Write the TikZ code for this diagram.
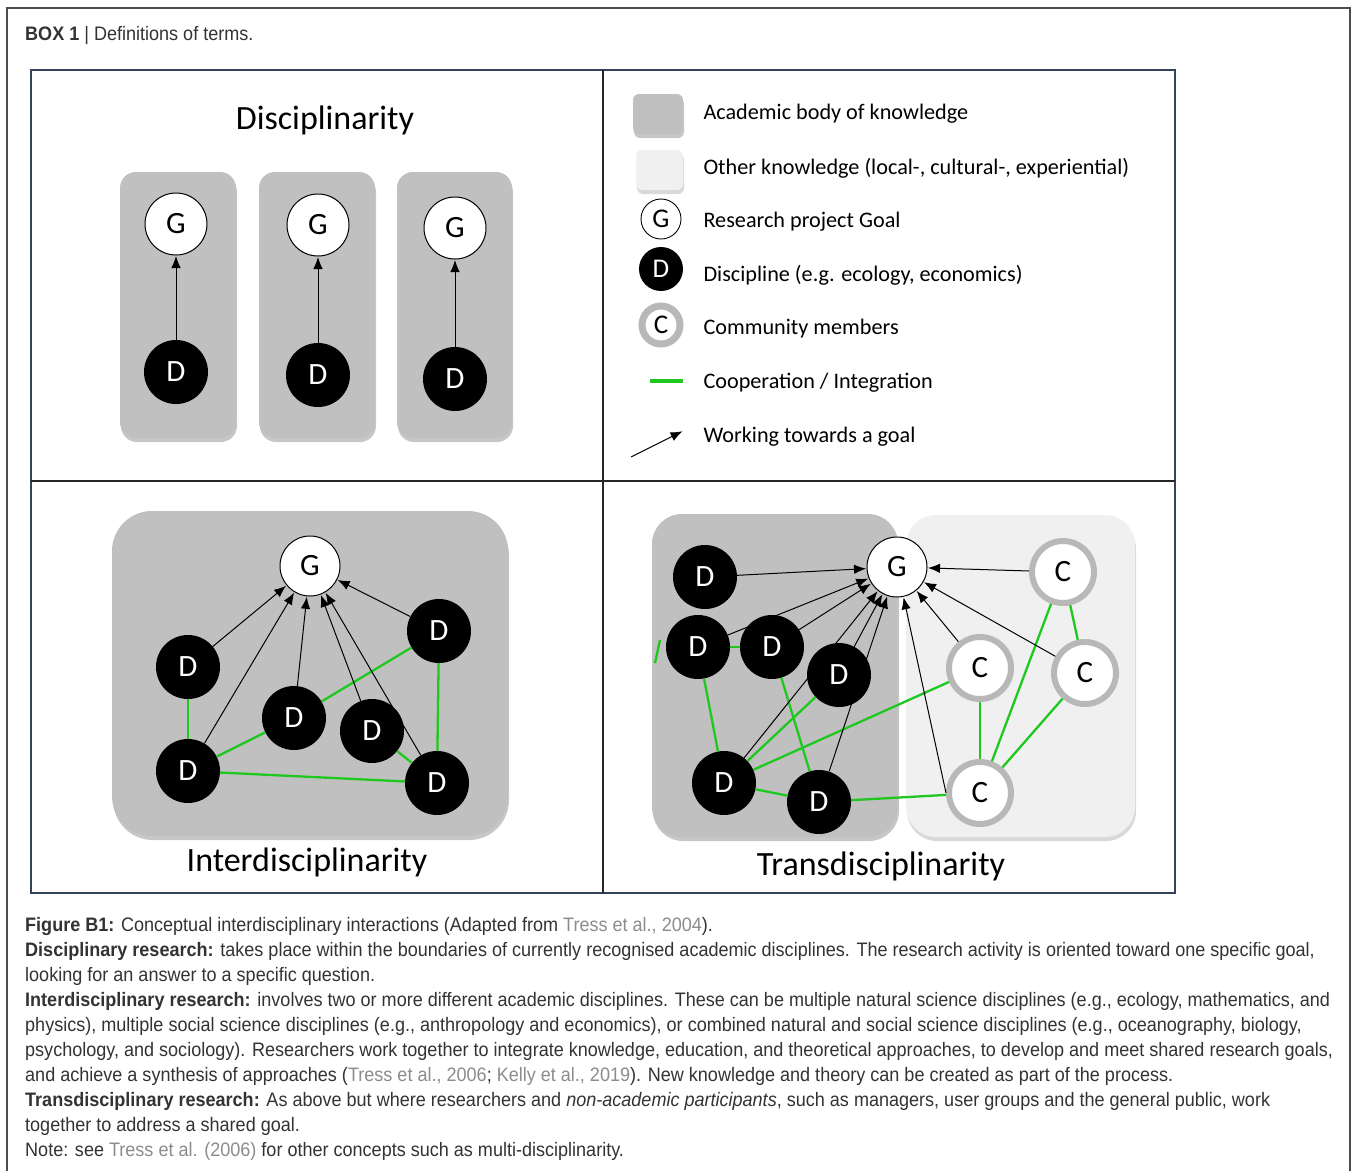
\documentclass[tikz,border=0pt]{standalone}
\usepackage{fontspec}
\setmainfont[FakeStretch=0.925]{Liberation Sans}
\newfontfamily\diafont{Carlito}
\usetikzlibrary{arrows.meta,shadows}
\definecolor{acad}{HTML}{C0C0C0}
\definecolor{other}{HTML}{F0F0F0}
\definecolor{ring}{HTML}{B8B8B8}
\definecolor{coopgreen}{HTML}{1EC81E}
\definecolor{capt}{HTML}{333333}
\definecolor{lnkc}{HTML}{8C8C8C}
\definecolor{framec}{HTML}{34425E}
\newcommand{\lnk}[1]{\textcolor{lnkc}{#1}}
\begin{document}
\begin{tikzpicture}[x=1pt,y=-1pt,
  gnode/.style={circle, draw=black, line width=1pt, fill=white, minimum size=62pt, inner sep=0pt, font=\diafont\fontsize{31}{31}\selectfont},
  dnode/.style={circle, fill=black, text=white, minimum size=64pt, inner sep=0pt, font=\diafont\fontsize{31}{31}\selectfont},
  cnode/.style={circle, draw=ring, line width=6pt, fill=white, minimum size=62pt, inner sep=0pt, font=\diafont\fontsize{31}{31}\selectfont},
  arr/.style={-{Latex[length=12pt,width=9.5pt]}, line width=1pt, shorten >=0.5pt},
  coop/.style={draw=coopgreen, line width=2.3pt},
  acadbox/.style={fill=acad, drop shadow={shadow xshift=1pt, shadow yshift=-4pt, fill=black, opacity=0.22}},
  otherbox/.style={fill=other, drop shadow={shadow xshift=1pt, shadow yshift=-4pt, fill=black, opacity=0.15}},
  title/.style={font=\diafont\fontsize{34}{34}\selectfont},
  legtext/.style={anchor=west, font=\diafont\fontsize{22.2}{22.2}\selectfont},
  capline/.style={anchor=base west, inner sep=0pt, text=capt, font=\fontsize{19.5}{23}\selectfont}
]
\useasboundingbox (0,0) rectangle (1357,1170);
\fill[white] (0,0) rectangle (1357,1170);
% outer box
\draw[line width=1.2pt, draw=black!70] (7,1175) -- (7,8) -- (1350,8) -- (1350,1175);
\node[capline] (hdr) at (25,40) {\textbf{BOX 1} \textbar{} Definitions of terms.};

% ---------- Disciplinarity ----------
\node[title] (tdisc) at (325,120) {Disciplinarity};
\path[acadbox, rounded corners=16pt] (120,172) rectangle (236,438);
\path[acadbox, rounded corners=16pt] (259,172) rectangle (375,438);
\path[acadbox, rounded corners=16pt] (397,172) rectangle (512,438);
\node[gnode, minimum size=62pt] (g1) at (176,224) {G};
\node[dnode] (d1) at (176,372) {D};
\node[gnode, minimum size=62pt] (g2) at (318,225) {G};
\node[dnode] (d2) at (318,375) {D};
\node[gnode, minimum size=62pt] (g3) at (455,228) {G};
\node[dnode] (d3) at (455,379) {D};
\draw[arr] (d1) -- (g1);
\draw[arr] (d2) -- (g2);
\draw[arr] (d3) -- (g3);

% ---------- Legend ----------
\path[acadbox, rounded corners=6pt] (633,94) rectangle (683,134);
\path[otherbox, rounded corners=6pt] (636,150) rectangle (683,190);
\node[gnode, minimum size=40pt, line width=0.9pt, font=\diafont\fontsize{27}{27}\selectfont] (lg) at (661,219) {G};
\node[dnode, minimum size=44pt, font=\diafont\fontsize{27}{27}\selectfont] (ld) at (661,269) {D};
\node[cnode, minimum size=38pt, line width=7pt, font=\diafont\fontsize{27}{27}\selectfont] (lc) at (661,325) {C};
\coordinate (lg1) at (650,381);
\coordinate (lg2) at (683,381);
\draw[coop, line width=3.2pt] (lg1) -- (lg2);
\coordinate (la1) at (631,457);
\coordinate (la2) at (683,431);
\draw[arr] (la1) -- (la2);
\node[legtext] (t1) at (700,114) {Academic body of knowledge};
\node[legtext] (t2) at (700,168) {Other knowledge (local-, cultural-, experiential)};
\node[legtext] (t3) at (700,222) {Research project Goal};
\node[legtext] (t4) at (700,275) {Discipline (e.g. ecology, economics)};
\node[legtext] (t5) at (700,329) {Community members};
\node[legtext] (t6) at (700,383) {Cooperation / Integration};
\node[legtext] (t7) at (700,437) {Working towards a goal};

% ---------- Interdisciplinarity ----------
\path[acadbox, rounded corners=40pt] (112,511) rectangle (508,836);
\node[title] (tinter) at (307,862) {Interdisciplinarity};
\node[gnode, minimum size=60pt] (ig) at (310,566) {G};
\node[dnode] (i1) at (188,667) {D};
\node[dnode] (i2) at (188,771) {D};
\node[dnode] (i3) at (294,718) {D};
\node[dnode] (i4) at (372,731) {D};
\node[dnode] (i5) at (439,631) {D};
\node[dnode] (i6) at (437,783) {D};
\draw[coop] (i1) -- (i2);
\draw[coop] (i2) -- (i3);
\draw[coop] (i3) -- (i5);
\draw[coop] (i5) -- (i6);
\draw[coop] (i4) -- (i6);
\draw[coop] (i2) -- (i6);
\draw[arr] (i1) -- (ig);
\draw[arr] (i2) -- (ig);
\draw[arr] (i3) -- (ig);
\draw[arr] (i4) -- (ig);
\draw[arr] (i6) -- (ig);
\draw[arr] (i5) -- (ig);

% ---------- Transdisciplinarity ----------
\path[acadbox, rounded corners=30pt] (652,514) rectangle (898,837);
\path[otherbox, rounded corners=30pt] (906,515) rectangle (1135,837);
\node[title] (ttrans) at (881,866) {Transdisciplinarity};
\node[gnode, minimum size=60pt] (tg) at (897,567) {G};
\node[dnode] (ta) at (705,577) {D};
\node[dnode] (tb) at (698,647) {D};
\node[dnode] (tc) at (772,647) {D};
\node[dnode] (td) at (839,675) {D};
\node[dnode] (te) at (724,783) {D};
\node[dnode] (tf) at (819,802) {D};
\node[cnode] (c1) at (1063,572) {C};
\node[cnode] (c2) at (980,668) {C};
\node[cnode] (c3) at (1085,673) {C};
\node[cnode] (c4) at (980,793) {C};
\coordinate (st1) at (655,663);
\coordinate (st2) at (660,640);
\draw[coop] (st1) -- (st2);
\draw[coop] (tb) -- (tc);
\draw[coop] (tb) -- (te);
\draw[coop] (tc) -- (tf);
\draw[coop] (td) -- (te);
\draw[coop] (c2) -- (te);
\draw[coop] (te) -- (tf);
\draw[coop] (tf) -- (c4);
\draw[coop] (c2) -- (c4);
\draw[coop] (c1) -- (c4);
\draw[coop] (c1) -- (c3);
\draw[coop] (c3) -- (c4);
\draw[arr] (ta) -- (tg);
\draw[arr] (tb) -- (tg);
\draw[arr] (tc) -- (tg);
\draw[arr] (td) -- (tg);
\draw[arr] (te) -- (tg);
\draw[arr] (tf) -- (tg);
\draw[arr] (c1) -- (tg);
\draw[arr] (c2) -- (tg);
\draw[arr] (c3) -- (tg);
\draw[arr] (c4.west) -- (tg);

% ---------- frame ----------
\draw[line width=1.5pt, draw=framec] (31,70) rectangle (1175,893);
\draw[line width=1.3pt, draw=black!85] (603,70) -- (603,893);
\draw[line width=1.3pt, draw=black!85] (31,481) -- (1175,481);

% ---------- caption ----------
\node[capline] (l1) at (25,931) {\textbf{Figure B1:} Conceptual interdisciplinary interactions (Adapted from \lnk{Tress et al., 2004}).};
\node[capline] (l2) at (25,956) {\textbf{Disciplinary research:} takes place within the boundaries of currently recognised academic disciplines. The research activity is oriented toward one specific goal,};
\node[capline] (l3) at (25,981) {looking for an answer to a specific question.};
\node[capline] (l4) at (25,1006) {\textbf{Interdisciplinary research:} involves two or more different academic disciplines. These can be multiple natural science disciplines (e.g., ecology, mathematics, and};
\node[capline] (l5) at (25,1031) {physics), multiple social science disciplines (e.g., anthropology and economics), or combined natural and social science disciplines (e.g., oceanography, biology,};
\node[capline] (l6) at (25,1056) {psychology, and sociology). Researchers work together to integrate knowledge, education, and theoretical approaches, to develop and meet shared research goals,};
\node[capline] (l7) at (25,1081) {and achieve a synthesis of approaches (\lnk{Tress et al., 2006}; \lnk{Kelly et al., 2019}). New knowledge and theory can be created as part of the process.};
\node[capline] (l8) at (25,1106) {\textbf{Transdisciplinary research:} As above but where researchers and \textit{non-academic participants}, such as managers, user groups and the general public, work};
\node[capline] (l9) at (25,1131) {together to address a shared goal.};
\node[capline] (l10) at (25,1156) {Note: see \lnk{Tress et al. (2006)} for other concepts such as multi-disciplinarity.};
\end{tikzpicture}
\end{document}
